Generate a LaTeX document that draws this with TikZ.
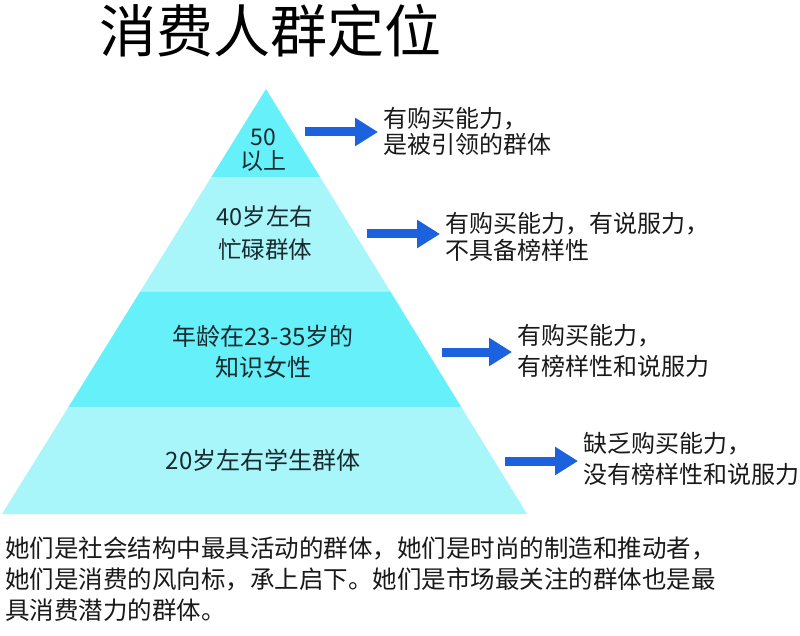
\documentclass[tikz,border=0pt]{standalone}
\usepackage{fontspec}
\setmainfont{Noto Sans CJK SC}
\usetikzlibrary{arrows.meta,calc}
\definecolor{banddark}{RGB}{102,240,249}
\definecolor{bandlight}{RGB}{168,245,250}
\definecolor{arrowblue}{RGB}{28,98,222}
\definecolor{labeltext}{RGB}{24,42,46}
\begin{document}
\begin{tikzpicture}[x=1pt,y=-1pt,
    band/.style={font=\fontsize{24}{31}\selectfont, text=labeltext, align=center, inner sep=0pt},
    desc/.style={font=\fontsize{24}{29}\selectfont, text=black!90, align=left, anchor=west, inner xsep=5pt, inner ysep=0pt},
    pointer/.style={arrowblue, line width=9pt, -{Triangle[length=23pt,width=27pt]}}]
        \useasboundingbox (0,0) rectangle (800,636);
        \fill[white] (0,0) rectangle (800,636);
        % pyramid corners and band cuts
        \coordinate (apex) at (266,89);
        \coordinate (bl) at (2,514);
        \coordinate (br) at (527,514);
        \coordinate (l1) at ($(apex)!0.2071!(bl)$); \coordinate (r1) at ($(apex)!0.2071!(br)$);
        \coordinate (l2) at ($(apex)!0.4776!(bl)$); \coordinate (r2) at ($(apex)!0.4776!(br)$);
        \coordinate (l3) at ($(apex)!0.7482!(bl)$); \coordinate (r3) at ($(apex)!0.7482!(br)$);
        \fill[banddark] (apex) -- (r1) -- (l1) -- cycle;
        \fill[bandlight] (l1) -- (r1) -- (r2) -- (l2) -- cycle;
        \fill[banddark] (l2) -- (r2) -- (r3) -- (l3) -- cycle;
        \fill[bandlight] (l3) -- (r3) -- (br) -- (bl) -- cycle;
        \node (title) at (270,31) {\fontsize{57}{60}\selectfont 消费人群定位};
        % band labels
        \node[band, font=\fontsize{23}{24}\selectfont] (b1) at (263,150) {50\\以上};
        \node[band, font=\fontsize{23.5}{33}\selectfont] (b2) at (265,233) {40岁左右\\忙碌群体};
        \node[band] (b3) at (263,352) {年龄在23-35岁的\\知识女性};
        \node[band] (b4) at (263,460) {20岁左右学生群体};
        % descriptions
        \node[desc, font=\fontsize{24}{26}\selectfont] (d1) at (378,131) {有购买能力，\\是被引领的群体};
        \node[desc, font=\fontsize{24}{27}\selectfont] (d2) at (440,237) {有购买能力，有说服力，\\不具备榜样性};
        \node[desc, font=\fontsize{24}{31}\selectfont] (d3) at (512,351) {有购买能力，\\有榜样性和说服力};
        \node[desc, font=\fontsize{24}{31}\selectfont] (d4) at (578,459) {缺乏购买能力，\\没有榜样性和说服力};
        % arrows
        \coordinate (s1) at (305,132);
        \coordinate (s2) at (367,234);
        \coordinate (s3) at (442,352);
        \coordinate (s4) at (505,461);
        \draw[pointer] (s1) -- (s1 -| d1.west);
        \draw[pointer] (s2) -- (s2 -| d2.west);
        \draw[pointer] (s3) -- (s3 -| d3.west);
        \draw[pointer] (s4) -- (s4 -| d4.west);
        \node[anchor=north west, inner sep=0pt, align=left, font=\fontsize{24.5}{31}\selectfont, text=black!90] (note) at (5,537)
            {她们是社会结构中最具活动的群体，她们是时尚的制造和推动者，\\
             她们是消费的风向标，承上启下。她们是市场最关注的群体也是最\\
             具消费潜力的群体。};
    \end{tikzpicture}
\end{document}
